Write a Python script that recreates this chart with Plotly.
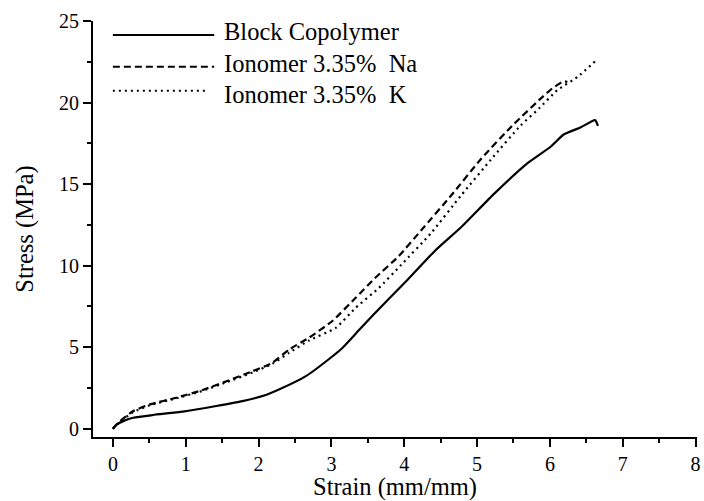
import plotly.graph_objects as go

# Stress-strain curves (strain in mm/mm, stress in MPa)
block_strain = [0, 0.05, 0.15, 0.28, 0.55, 0.96, 1.42, 1.78, 2.10, 2.28, 2.65, 2.99, 3.15, 3.37,
                3.58, 4.05, 4.42, 4.78, 5.24, 5.69, 6.01, 6.19, 6.42, 6.62, 6.66]
block_stress = [0, 0.25, 0.48, 0.67, 0.84, 1.05, 1.39, 1.69, 2.07, 2.40, 3.22, 4.35, 4.95, 6.0,
                7.0, 9.15, 10.9, 12.35, 14.43, 16.27, 17.29, 18.04, 18.47, 18.92, 18.57]

na_strain = [0, 0.10, 0.28, 0.51, 0.87, 1.19, 1.56, 1.92, 2.19, 2.42, 2.69, 3.01, 3.33, 3.60,
             3.92, 4.24, 4.65, 5.06, 5.51, 5.90, 6.03, 6.19, 6.24]
na_stress = [0, 0.47, 1.08, 1.49, 1.90, 2.31, 2.91, 3.53, 4.04, 4.85, 5.57, 6.59, 8.01, 9.24,
             10.56, 12.2, 14.33, 16.57, 18.7, 20.35, 20.86, 21.3, 21.26]

k_strain = [0, 0.10, 0.28, 0.51, 0.87, 1.19, 1.56, 1.92, 2.19, 2.42, 2.69, 3.06, 3.33, 3.65,
            3.96, 4.37, 4.78, 5.19, 5.60, 5.85, 6.10, 6.38, 6.65]
k_stress = [0, 0.42, 1.02, 1.44, 1.86, 2.26, 2.85, 3.45, 3.98, 4.65, 5.40, 6.18, 7.40, 8.62,
            10.05, 12.0, 14.3, 16.5, 18.6, 19.63, 20.75, 21.57, 22.65]

series_names = ["Block Copolymer", "Ionomer 3.35%\u00a0\u00a0Na", "Ionomer 3.35%\u00a0\u00a0K"]
x_ticks = [0, 1, 2, 3, 4, 5, 6, 7, 8]
y_ticks = [0, 5, 10, 15, 20, 25]

FONT = "Liberation Serif, Times New Roman, serif"
DASH = "7px,4px"
DOT = "2px,4px"

W, H = 704, 501
L, R, T, B = 93, 3, 21, 62

fig = go.Figure()
styles = [("solid", block_strain, block_stress),
          (DASH, na_strain, na_stress),
          (DOT, k_strain, k_stress)]
for name, (dash, xs, ys) in zip(series_names, styles):
    fig.add_trace(go.Scatter(
        x=xs, y=ys, mode="lines", name=name, showlegend=False,
        line=dict(color="black", width=2.2, dash=dash, shape="spline", smoothing=0.5),
    ))

# Hand-drawn legend in the upper left of the plot area
def px_to_paper_x(px):
    return (px - L) / (W - L - R)

def px_to_paper_y(py):
    return (H - B - py) / (H - T - B)

legend_rows = [(35, 32, "solid", 215), (67, 64, DASH, 215), (91, 95, DOT, 209)]
for name, (line_y, text_y, dash, x_end) in zip(series_names, legend_rows):
    fig.add_shape(type="line", xref="paper", yref="paper",
                  x0=px_to_paper_x(113), x1=px_to_paper_x(x_end),
                  y0=px_to_paper_y(line_y), y1=px_to_paper_y(line_y),
                  line=dict(color="black", width=2, dash=dash))
    fig.add_annotation(xref="paper", yref="paper", x=px_to_paper_x(223),
                       y=px_to_paper_y(text_y), text=name, showarrow=False,
                       xanchor="left", yanchor="middle",
                       font=dict(family=FONT, size=24.5, color="black"))

axis_common = dict(
    showline=True, linewidth=2, linecolor="black", showgrid=False, zeroline=False,
    ticks="outside", ticklen=8, tickwidth=2, tickcolor="black",
    ticklabeloverflow="allow",
    tickfont=dict(family=FONT, size=20, color="black"),
)

fig.update_layout(
    width=W, height=H,
    margin=dict(l=L, r=R, t=T, b=B, pad=0),
    paper_bgcolor="white", plot_bgcolor="white",
    xaxis=dict(range=[-0.273, 8.02], tickvals=x_ticks,
               minor=dict(dtick=0.5, tick0=0, ticks="outside", ticklen=4, tickwidth=2,
                          tickcolor="black", showgrid=False),
               title=dict(text="Strain (mm/mm)", standoff=6,
                          font=dict(family=FONT, size=24.5, color="black")),
               **axis_common),
    yaxis=dict(range=[-0.51, 25], tickvals=y_ticks,
               minor=dict(dtick=2.5, tick0=0, ticks="outside", ticklen=4, tickwidth=2,
                          tickcolor="black", showgrid=False),
               title=dict(text="Stress (MPa)", standoff=18,
                          font=dict(family=FONT, size=24.5, color="black")),
               **axis_common),
    showlegend=False,
)

fig.write_html("out.html")
